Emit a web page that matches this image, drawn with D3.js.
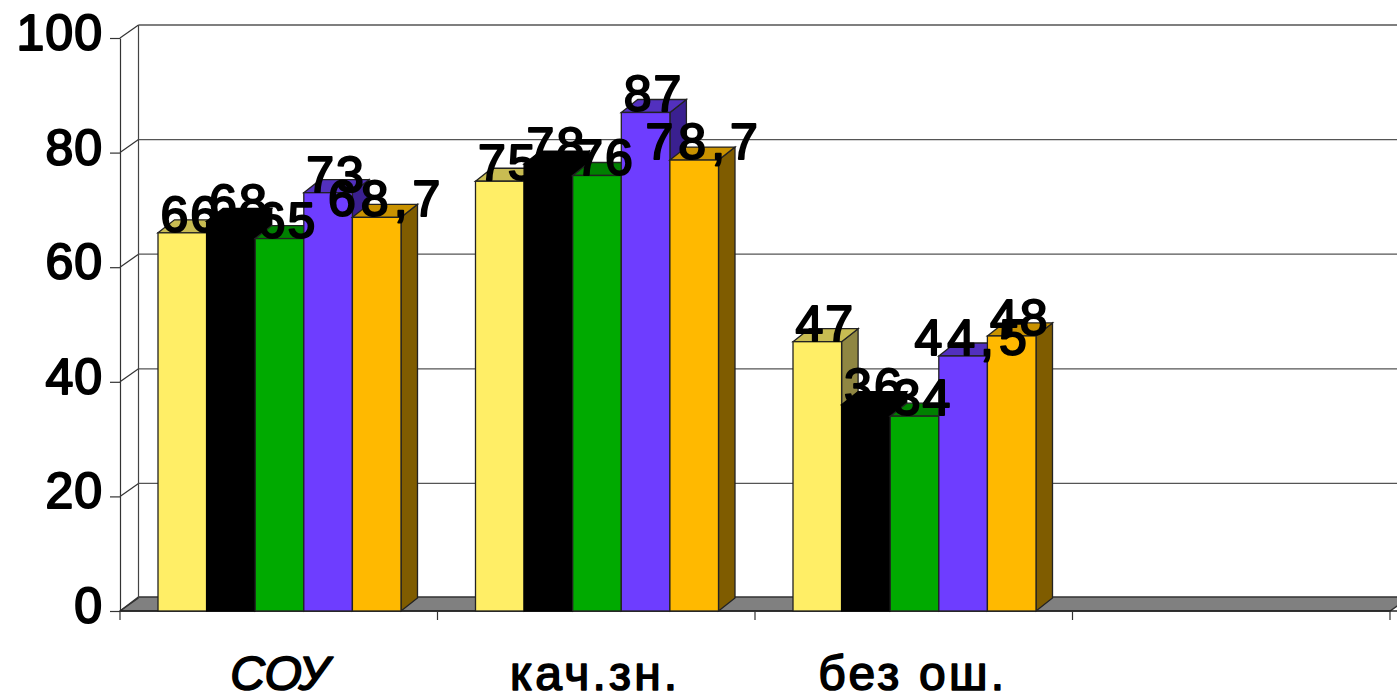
<!DOCTYPE html>
<html><head><meta charset="utf-8">
<script src="https://cdnjs.cloudflare.com/ajax/libs/d3/7.8.5/d3.min.js"></script>
<style>html,body{margin:0;padding:0;background:#fff;overflow:hidden}svg{display:block}
text{font-family:"Liberation Sans","Open Sans",sans-serif;fill:#000;stroke:#000;stroke-linejoin:round}</style>
</head><body><svg id="c" width="1397" height="696"></svg>
<script>
const categories = ["СОУ", "кач.зн.", "без ош.", ""];
const seriesNames = ["s1", "s2", "s3", "s4", "s5"];
const seriesValues = [
  [66, 75, 47],
  [68, 78, 36],
  [65, 76, 34],
  [73, 87, 44.5],
  [68.7, 78.7, 48]
];
const seriesFront = ["#FFEE66", "#000000", "#00AA00", "#6E3DFF", "#FFB900"];
const seriesTop   = ["#C8BC52", "#000000", "#008000", "#5230BE", "#C99200"];
const seriesSide  = ["#8F8642", "#000000", "#005500", "#3A2090", "#7F5C00"];
const yTicks = [0, 20, 40, 60, 80, 100];

const W = 1397, H = 696;
const svg = d3.select("#c");
const y = d3.scaleLinear().domain([0, 100]).range([611, 38]);
const x0 = d3.scaleBand().domain(categories).range([120, 1390]);
const x1 = d3.scaleBand().domain(seriesNames).range([38, 281]);
const wall = {dx: 18.5, dy: -13};
const bar = {dx: 16.5, dy: -13};
const ln = "#333";

// floor
svg.append("path")
  .attr("d", `M120,${y(0)}L${120 + wall.dx},${y(0) + wall.dy - 1}L1410,${y(0) + wall.dy - 1}L1390,${y(0)}Z`)
  .attr("fill", "#808080").attr("stroke", ln).attr("stroke-width", 1.5);

// back wall grid and slanted ticks
const grid = svg.append("g");
grid.selectAll("line.g").data(yTicks.filter(d => d > 0)).join("line")
  .attr("x1", 120 + wall.dx).attr("x2", W)
  .attr("y1", d => y(d) + wall.dy).attr("y2", d => y(d) + wall.dy)
  .attr("stroke", "#555").attr("stroke-width", 1.3);
grid.selectAll("line.s").data(yTicks).join("line")
  .attr("x1", 120).attr("x2", 120 + wall.dx)
  .attr("y1", d => y(d)).attr("y2", d => y(d) + wall.dy)
  .attr("stroke", "#333").attr("stroke-width", 1.2);
grid.append("line").attr("x1", 120 + wall.dx).attr("x2", 120 + wall.dx)
  .attr("y1", y(100) + wall.dy).attr("y2", y(0) + wall.dy)
  .attr("stroke", "#444").attr("stroke-width", 1.2);

// axes
const axisY = d3.axisLeft(y).tickValues(yTicks).tickSize(10).tickSizeOuter(0).tickPadding(8);
const gy = svg.append("g").attr("transform", "translate(120,0)").call(axisY);
gy.selectAll("path,line").attr("stroke", "#333").attr("stroke-width", 1.2);
gy.selectAll("text").attr("font-size", 50).attr("stroke-width", 2)
  .attr("dy", "0.23em").attr("dx", 1).attr("letter-spacing", 1);

const axisX = d3.axisBottom(x0).tickSize(0).tickPadding(0);
const gx = svg.append("g").attr("transform", `translate(0,${y(0)})`).call(axisX);
gx.select("path").attr("stroke", "#222").attr("stroke-width", 1.5).attr("d", `M120,0H${W}`);
gx.selectAll("text").attr("font-size", 48).attr("stroke-width", 1.6)
  .attr("y", 79).attr("dy", 0).attr("x", (d, i) => i === 0 ? 1 : -1)
  .attr("font-style", (d, i) => i === 0 ? "italic" : "normal")
  .attr("letter-spacing", (d, i) => i === 0 ? 0 : 3.2);
svg.append("g").selectAll("line").data(d3.range(categories.length + 1)).join("line")
  .attr("x1", i => 120 + i * x0.step()).attr("x2", i => 120 + i * x0.step())
  .attr("y1", y(0)).attr("y2", y(0) + 9)
  .attr("stroke", "#333").attr("stroke-width", 1.2);

// 3D bars
const marks = svg.append("g");
seriesNames.forEach((s, si) => {
  const data = seriesValues[si].map((v, ci) => ({v, c: categories[ci]}));
  const g = marks.append("g");
  const X = d => x0(d.c) + x1(s), w = x1.bandwidth();
  const st = si === 1 ? "#000" : "#222";
  g.selectAll("path.side").data(data).join("path")
    .attr("d", d => `M${X(d) + w},${y(0)}l${bar.dx},${bar.dy}V${y(d.v) + bar.dy}l${-bar.dx},${-bar.dy}Z`)
    .attr("fill", seriesSide[si]).attr("stroke", st).attr("stroke-width", 1.3);
  g.selectAll("path.top").data(data).join("path")
    .attr("d", d => `M${X(d)},${y(d.v)}l${bar.dx},${bar.dy}h${w}l${-bar.dx},${-bar.dy}Z`)
    .attr("fill", seriesTop[si]).attr("stroke", st).attr("stroke-width", 1.3);
  g.selectAll("rect").data(data).join("rect")
    .attr("x", X).attr("width", w).attr("y", d => y(d.v)).attr("height", d => y(0) - y(d.v))
    .attr("fill", seriesFront[si]).attr("stroke", st).attr("stroke-width", 1.3);
});

// value labels
const labels = svg.append("g");
seriesNames.forEach((s, si) => {
  labels.selectAll(null).data(seriesValues[si].map((v, ci) => ({v, c: categories[ci]}))).join("text")
    .attr("x", d => x0(d.c) + x1(s) + x1.bandwidth() / 2 + (Number.isInteger(d.v) ? 8 : 10))
    .attr("y", d => y(d.v) - 1)
    .attr("text-anchor", "middle")
    .attr("font-size", 50).attr("stroke-width", 2)
    .attr("letter-spacing", d => Number.isInteger(d.v) ? 2 : 5)
    .text(d => String(d.v).replace(".", ","));
});
</script></body></html>
